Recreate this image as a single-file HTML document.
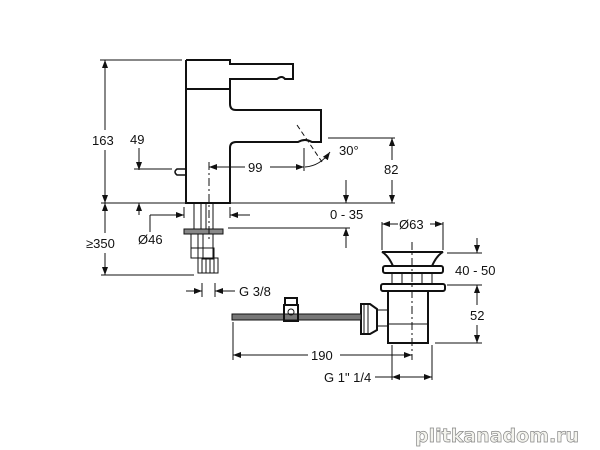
<!DOCTYPE html>
<html><head><meta charset="utf-8"><style>
html,body{margin:0;padding:0;background:#fff;width:600px;height:450px;overflow:hidden}
svg{display:block}
text{font-family:"Liberation Sans",sans-serif;font-size:13px;fill:#111}
</style></head><body>
<svg width="600" height="450" viewBox="0 0 600 450" xmlns="http://www.w3.org/2000/svg">
<defs><marker id="a" markerWidth="8" markerHeight="6" refX="8" refY="3" orient="auto-start-reverse" markerUnits="userSpaceOnUse"><path d="M0,0 L8,3 L0,6 z" fill="#111"/></marker></defs>
<g stroke="#111" fill="none" stroke-width="1">
<path d="M186,60 H230 V64 H293 V79 H285 Q282,75 277,79 H230 V90" stroke-width="2"/>
<path d="M186,60 V203 H230 V148 Q230,142 236,142 H298 Q305,138 312,142 H321 V110 H236 Q230,110 230,104 V90" stroke-width="2"/>
<line x1="186" y1="89" x2="230" y2="89" stroke-width="2"/>
<path d="M186,169 H177 Q173,172 177,175 H186" stroke-width="1.5"/>
<line x1="194" y1="203" x2="194" y2="230"/><line x1="201" y1="203" x2="201" y2="230"/>
<line x1="206" y1="203" x2="206" y2="230"/><line x1="213" y1="203" x2="213" y2="230"/>
<rect x="184" y="229" width="39" height="5" fill="#888"/>
<rect x="191" y="234" width="7" height="24"/><rect x="203" y="234" width="10" height="25"/>
<rect x="191" y="248" width="23" height="10"/>
<rect x="198" y="258" width="20" height="15"/>
<path d="M202,258V273M206,258V273M210,258V273M214,258V273"/>
<line x1="209" y1="162" x2="209" y2="240" stroke-dasharray="8,3,2,3"/>
<line x1="100" y1="60" x2="182" y2="60"/>
<line x1="101" y1="203" x2="395" y2="203"/>
<line x1="105" y1="60" x2="105" y2="130" marker-start="url(#a)"/>
<line x1="105" y1="150" x2="105" y2="203" marker-end="url(#a)"/>
<line x1="105" y1="203" x2="105" y2="233" marker-start="url(#a)"/>
<line x1="105" y1="253" x2="105" y2="275" marker-end="url(#a)"/>
<line x1="101" y1="275" x2="194" y2="275"/>
<line x1="139" y1="148" x2="139" y2="170" marker-end="url(#a)"/>
<line x1="139" y1="203" x2="139" y2="215" marker-start="url(#a)"/>
<line x1="134" y1="169" x2="172" y2="169"/>
<line x1="209" y1="167" x2="245" y2="167" marker-start="url(#a)"/>
<line x1="270" y1="167" x2="304" y2="167" marker-end="url(#a)"/>
<line x1="304" y1="148" x2="304" y2="171"/>
<line x1="297" y1="125" x2="322" y2="162" stroke-dasharray="5,3"/>
<path d="M305,167 Q320,166 330,152" marker-end="url(#a)"/>
<line x1="328" y1="138" x2="395" y2="138"/>
<line x1="392" y1="138" x2="392" y2="160" marker-start="url(#a)"/>
<line x1="392" y1="180" x2="392" y2="203" marker-end="url(#a)"/>
<line x1="346" y1="180" x2="346" y2="203" marker-end="url(#a)"/>
<line x1="346" y1="228" x2="346" y2="248" marker-start="url(#a)"/>
<line x1="228" y1="228" x2="350" y2="228"/>
<line x1="150" y1="215" x2="184" y2="215" marker-end="url(#a)"/>
<line x1="150" y1="215" x2="150" y2="232"/>
<line x1="230" y1="215" x2="250" y2="215" marker-start="url(#a)"/>
<line x1="184" y1="207" x2="184" y2="218"/><line x1="230" y1="207" x2="230" y2="218"/>
<line x1="186" y1="291" x2="202" y2="291" marker-end="url(#a)"/>
<line x1="215" y1="291" x2="235" y2="291" marker-start="url(#a)"/>
<line x1="202" y1="283" x2="202" y2="297"/><line x1="215" y1="283" x2="215" y2="297"/>
<path d="M382,252 H443 Q437,255 432,266 H393 Q388,255 382,252 Z" stroke-width="2"/>
<rect x="383" y="266" width="60" height="7" rx="2" stroke-width="2"/>
<path d="M392,273 V284 M432,273 V284 M402,273 V284 M422,273 V284"/>
<rect x="381" y="284" width="64" height="7" rx="2" stroke-width="2"/>
<path d="M388,291 V343 H428 V291" stroke-width="2"/>
<line x1="388" y1="324" x2="428" y2="324"/>
<line x1="412" y1="242" x2="412" y2="360" stroke-dasharray="8,3,2,3"/>
<path d="M361,304 H370 L377,309 V330 L370,334 H361 Z" stroke-width="2"/>
<path d="M364,304 V334 M368,304 V334"/>
<path d="M377,310 H388 M377,326 H388"/>
<rect x="232" y="314" width="129" height="6" fill="#777"/>
<rect x="285" y="298" width="12" height="7" stroke-width="2"/>
<rect x="284" y="305" width="14" height="16" stroke-width="2"/>
<circle cx="291" cy="312" r="3"/>
<line x1="382" y1="222" x2="382" y2="250"/><line x1="443" y1="222" x2="443" y2="250"/>
<line x1="382" y1="224" x2="398" y2="224" marker-start="url(#a)"/>
<line x1="430" y1="224" x2="443" y2="224" marker-end="url(#a)"/>
<line x1="447" y1="253" x2="482" y2="253"/><line x1="447" y1="285" x2="482" y2="285"/>
<line x1="435" y1="343" x2="482" y2="343"/>
<line x1="477" y1="238" x2="477" y2="253" marker-end="url(#a)"/>
<line x1="477" y1="285" x2="477" y2="305" marker-start="url(#a)"/>
<line x1="477" y1="325" x2="477" y2="343" marker-end="url(#a)"/>
<line x1="233" y1="322" x2="233" y2="360"/>
<line x1="233" y1="355" x2="308" y2="355" marker-start="url(#a)"/>
<line x1="340" y1="355" x2="412" y2="355" marker-end="url(#a)"/>
<line x1="392" y1="345" x2="392" y2="380"/><line x1="432" y1="345" x2="432" y2="380"/>
<line x1="375" y1="377" x2="392" y2="377"/>
<line x1="392" y1="377" x2="432" y2="377" marker-start="url(#a)" marker-end="url(#a)"/>
</g>
<text x="92" y="145">163</text>
<text x="130" y="144">49</text>
<text x="86" y="248">≥350</text>
<text x="248" y="172">99</text>
<text x="339" y="155">30°</text>
<text x="384" y="174">82</text>
<text x="330" y="219">0 - 35</text>
<text x="138" y="244">Ø46</text>
<text x="239" y="296">G 3/8</text>
<text x="399" y="229">Ø63</text>
<text x="455" y="275">40 - 50</text>
<text x="470" y="320">52</text>
<text x="311" y="360">190</text>
<text x="324" y="382">G 1" 1/4</text>
<text x="415" y="442" style="font-family:'DejaVu Sans',sans-serif;font-size:19px;font-weight:bold;fill:#f4f4ee;stroke:#888;stroke-width:0.7">plitkanadom.ru</text>
</svg>
</body></html>
